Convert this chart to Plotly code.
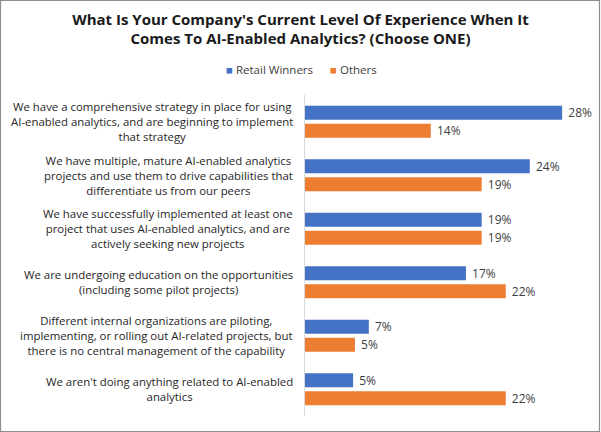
import plotly.graph_objects as go

# ---- data ----
categories = [
    "We have a comprehensive strategy in place for using<br>AI-enabled analytics, and are beginning to implement<br>that strategy",
    "We have multiple, mature AI-enabled analytics<br>projects and use them to drive capabilities that<br>differentiate us from our peers",
    "We have successfully implemented at least one<br>project that uses AI-enabled analytics, and are<br>actively seeking new projects",
    "We are undergoing education on the opportunities<br>(including some pilot projects)",
    "Different internal organizations are piloting,<br>implementing, or rolling out AI-related projects, but<br>there is no central management of the capability",
    "We aren't doing anything related to AI-enabled<br>analytics",
]
retail_winners = [27.8, 24.3, 19.1, 17.4, 6.9, 5.2]
others = [13.6, 19.1, 19.1, 21.7, 5.4, 21.7]
series_names = ["Retail Winners", "Others"]
colors = ["#4472C4", "#ED7D31"]

title_text = ("<b>What Is Your Company's Current Level Of Experience When It<br>"
              "Comes To AI-Enabled Analytics? (Choose ONE)</b>")

# ---- layout geometry ----
W, H = 601, 432
ml, mr, mt, mb = 305, 6, 95, 16
pw = W - ml - mr
ph = H - mt - mb
px_per_pct = 9.25
FONT = "Open Sans"
TXT = "#262626"


def paper_x(px):
    return (px - ml) / pw


def paper_y(py):
    return (H - mb - py) / ph


fig = go.Figure()
for name, vals, col in zip(series_names, [retail_winners, others], colors):
    fig.add_trace(go.Bar(
        y=categories, x=vals, orientation="h", name=name,
        marker=dict(color=col, line=dict(width=0)),
        text=vals, texttemplate="\u00a0%{x:.0f}%", textposition="outside",
        textfont=dict(family=FONT, size=12, color="#404040"),
        cliponaxis=False, constraintext="none", showlegend=False,
        hoverinfo="skip",
    ))

# legend (compact, as in the reference)
legend_px = [224, 328]
for name, col, lx in zip(series_names, colors, legend_px):
    fig.add_annotation(
        x=paper_x(lx), xref="paper", y=paper_y(69), yref="paper",
        text=f'<span style="color:{col}">■</span>\u00a0{name}',
        showarrow=False, xanchor="left", yanchor="middle",
        font=dict(family=FONT, size=11.5, color="#404040"),
    )

for cat in categories:
    fig.add_annotation(
        x=0, xref="paper", y=cat, yref="y", text=cat,
        xanchor="right", yanchor="middle", align="center", xshift=-10,
        showarrow=False, font=dict(family=FONT, size=11.4, color=TXT),
    )

# chart border
fig.add_shape(
    type="rect", xref="paper", yref="paper",
    x0=paper_x(0.5), x1=paper_x(W - 1.5),
    y0=paper_y(H - 0.5), y1=paper_y(0.5),
    line=dict(color="#8c8c8c", width=1.2), fillcolor="rgba(0,0,0,0)",
    layer="above",
)

fig.update_layout(
    width=W, height=H,
    margin=dict(l=ml, r=mr, t=mt, b=mb),
    paper_bgcolor="white", plot_bgcolor="white",
    barmode="group", bargap=0.33, bargroupgap=0.22,
    showlegend=False,
    title=dict(text=title_text, x=0.5, xref="container", xanchor="center",
               y=1 - 24.5 / H, yref="container", yanchor="middle",
               font=dict(family=FONT, size=15, color="#1a1a1a")),
    xaxis=dict(range=[0, pw / px_per_pct], visible=False, fixedrange=True),
    yaxis=dict(autorange="reversed", showticklabels=False, ticks="",
               showline=True, linecolor="#d9d9d9", linewidth=1,
               showgrid=False, zeroline=False),
    font=dict(family=FONT),
)

fig.write_html("out.html")
